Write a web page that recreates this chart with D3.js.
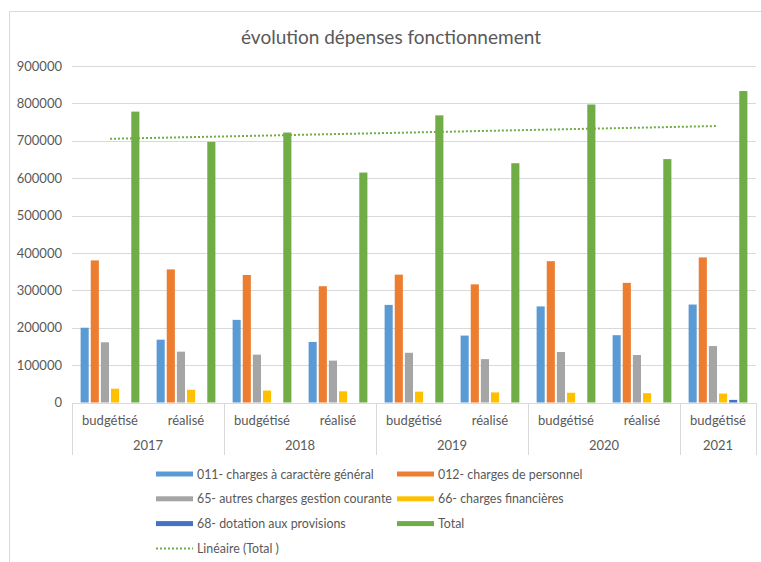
<!DOCTYPE html>
<html>
<head>
<meta charset="utf-8">
<script src="https://cdn.jsdelivr.net/npm/d3@7"></script>
<style>
  body { margin: 0; background: #fff; }
  svg text { font-family: Lato, 'Open Sans', sans-serif; fill: #595959; }
</style>
</head>
<body>
<svg id="main"></svg>
<script>
//--------data----------
const years = ['2017', '2017', '2018', '2018', '2019', '2019', '2020', '2020', '2021'];
const kinds = ['budgétisé', 'réalisé', 'budgétisé', 'réalisé', 'budgétisé', 'réalisé', 'budgétisé', 'réalisé', 'budgétisé'];
const seriesNames = [
  '011- charges à caractère général',
  '012- charges de personnel',
  '65- autres charges gestion courante',
  '66- charges financières',
  '68- dotation aux provisions',
  'Total'
];
const charges011 = [200000, 168000, 221000, 162000, 261000, 179000, 257000, 180000, 262000];
const charges012 = [380000, 356000, 341000, 311000, 342000, 316000, 378000, 320000, 388000];
const charges65 = [161000, 136000, 128000, 112000, 133000, 116000, 135000, 127000, 151000];
const charges66 = [37000, 34000, 32000, 30000, 29000, 27000, 26000, 25000, 24000];
const charges68 = [0, 0, 0, 0, 0, 0, 0, 0, 7000];
const totals = [778000, 697000, 722000, 615000, 768000, 640000, 797000, 651000, 833000];
const yTicks = [0, 100000, 200000, 300000, 400000, 500000, 600000, 700000, 800000, 900000];

const colors = ['#5B9BD5', '#ED7D31', '#A5A5A5', '#FFC000', '#4472C4', '#70AD47'];

// --------code----------
let width = 761, height = 562;
let svg = d3.select('#main')
  .attr('width', width)
  .attr('height', height);

// chart frame (only left/top visible)
svg.append('path')
  .attr('d', `M9.5,${height} L9.5,11.5 L${width},11.5`)
  .attr('fill', 'none')
  .attr('stroke', '#d9d9d9');

svg.append('text')
  .attr('x', 391)
  .attr('y', 44)
  .attr('text-anchor', 'middle')
  .style('font-size', '19px')
  .text('évolution dépenses fonctionnement');

let cats = d3.range(years.length);
let sx = d3.scaleBand().domain(cats).range([72, 756]);
let sy = d3.scaleLinear().domain([0, 900000]).range([402.5, 66]);
let sx1 = d3.scaleBand().domain(d3.range(seriesNames.length))
  .range([0, sx.bandwidth()])
  .paddingInner(0.2)
  .paddingOuter(0.85);

// gridlines
svg.append('g')
  .selectAll('line')
  .data(yTicks.slice(1))
  .join('line')
  .attr('x1', 72).attr('x2', 756)
  .attr('y1', d => Math.round(sy(d)) + 0.5)
  .attr('y2', d => Math.round(sy(d)) + 0.5)
  .attr('stroke', '#d9d9d9');

// y axis labels
let ay = d3.axisLeft(sy).tickValues(yTicks).tickSize(0).tickPadding(0).tickFormat(d3.format('d'));
let gy = svg.append('g')
  .attr('transform', 'translate(62,0)')
  .call(ay);
gy.select('.domain').remove();
gy.selectAll('text')
  .style('font-size', '13px')
  .attr('fill', '#595959');

// bars
let seriesData = [charges011, charges012, charges65, charges66, charges68, totals];
let barData = [];
seriesData.forEach((arr, s) => {
  arr.forEach((v, i) => {
    if (v > 0) barData.push({s: s, i: i, v: v});
  });
});
svg.append('g')
  .selectAll('rect')
  .data(barData)
  .join('rect')
  .attr('x', d => sx(d.i) + sx1(d.s))
  .attr('width', sx1.bandwidth())
  .attr('y', d => sy(d.v))
  .attr('height', d => sy(0) - sy(d.v))
  .attr('fill', d => colors[d.s]);

// linear trend of Total
let xm = d3.mean(cats), ym = d3.mean(totals);
let slope = d3.sum(cats, i => (i - xm) * (totals[i] - ym)) / d3.sum(cats, i => (i - xm) * (i - xm));
let icpt = ym - slope * xm;
let first = 0, last = cats.length - 1;
svg.append('line')
  .attr('x1', sx(first) + sx.bandwidth() / 2)
  .attr('x2', sx(last) + sx.bandwidth() / 2)
  .attr('y1', sy(icpt + slope * first))
  .attr('y2', sy(icpt + slope * last))
  .attr('stroke', colors[5])
  .attr('stroke-width', 2)
  .attr('stroke-dasharray', '2,2');

// x axis: baseline + year separators
let axisG = svg.append('g');
axisG.append('line')
  .attr('x1', 72).attr('x2', 756)
  .attr('y1', 403.5).attr('y2', 403.5)
  .attr('stroke', '#d9d9d9');
let yearList = Array.from(new Set(years));
let seps = [0];
yearList.forEach(y => {
  seps.push(years.lastIndexOf(y) + 1);
});
axisG.selectAll('.sep')
  .data(seps)
  .join('line')
  .attr('class', 'sep')
  .attr('x1', i => Math.round(i < cats.length ? sx(i) : sx.range()[1]) + 0.5)
  .attr('x2', i => Math.round(i < cats.length ? sx(i) : sx.range()[1]) + 0.5)
  .attr('y1', 403).attr('y2', 455)
  .attr('stroke', '#d9d9d9');

axisG.selectAll('.kind')
  .data(cats)
  .join('text')
  .attr('class', 'kind')
  .attr('x', i => sx(i) + sx.bandwidth() / 2)
  .attr('y', 425)
  .attr('text-anchor', 'middle')
  .style('font-size', '13px')
  .text(i => kinds[i]);

axisG.selectAll('.year')
  .data(yearList)
  .join('text')
  .attr('class', 'year')
  .attr('x', y => {
    let a = years.indexOf(y), b = years.lastIndexOf(y);
    return (sx(a) + sx(b) + sx.bandwidth()) / 2;
  })
  .attr('y', 450)
  .attr('text-anchor', 'middle')
  .style('font-size', '13px')
  .text(y => y);

// legend
let legendItems = seriesNames.map((n, s) => ({name: n, color: colors[s], type: 'bar'}));
legendItems.push({name: 'Linéaire (Total )', color: colors[5], type: 'trend'});
let lg = svg.append('g')
  .selectAll('g')
  .data(legendItems)
  .join('g')
  .attr('transform', (d, i) => `translate(${i % 2 === 0 || i === 6 ? 156 : 397},${474 + Math.floor(i / 2) * 24.8})`);
lg.filter(d => d.type === 'bar')
  .append('rect')
  .attr('x', 0).attr('y', -2.5)
  .attr('width', 37).attr('height', 5)
  .attr('fill', d => d.color);
lg.filter(d => d.type === 'trend')
  .append('line')
  .attr('x1', 0).attr('x2', 37)
  .attr('y1', 0).attr('y2', 0)
  .attr('stroke', d => d.color)
  .attr('stroke-width', 2)
  .attr('stroke-dasharray', '2,2');
lg.append('text')
  .attr('x', 41)
  .attr('y', 4.5)
  .style('font-size', '12.4px')
  .text(d => d.name);
</script>
</body>
</html>
